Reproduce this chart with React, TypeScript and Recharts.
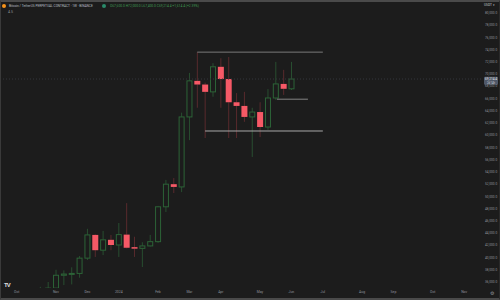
import { ComposedChart, Bar, XAxis, YAxis, ReferenceLine } from "recharts";

// weekly candles, index 0 = week of 2 Oct 2023
const weeks = [
  0, 1, 2, 3, 4, 5, 6, 7, 8, 9, 10, 11, 12, 13, 14, 15, 16, 17,
  18, 19, 20, 21, 22, 23, 24, 25, 26, 27, 28, 29, 30, 31, 32, 33, 34, 35,
];
const opens = [
  27000, 27900, 26850, 29950, 34500, 35000, 37100, 37300, 37400, 39900, 43700, 41200, 42900, 42050, 43750, 41700, 41500, 41900,
  42600, 48300, 52000, 51550, 63000, 68900, 68300, 67100, 71200, 69200, 65400, 64800, 63000, 63800, 61350, 66100, 68400, 67600,
];
const highs = [
  28600, 28000, 30300, 35200, 36000, 38000, 37900, 38400, 40250, 44700, 43800, 44350, 43700, 45650, 48900, 43400, 42500, 43700,
  48450, 52700, 53000, 63700, 70200, 73600, 68600, 71800, 72600, 72800, 66900, 67100, 64500, 65400, 67550, 72000, 70700, 72000,
];
const lows = [
  26900, 26500, 26700, 29600, 34100, 34500, 35500, 35600, 36700, 39600, 40100, 40400, 41200, 40100, 41500, 40100, 38450, 41800,
  42400, 47450, 50550, 50700, 59200, 64500, 59550, 66300, 64500, 59550, 59550, 62200, 56450, 59700, 60900, 65800, 66600, 67400,
];
const closes = [
  27900, 26850, 29950, 34500, 35000, 37100, 37300, 37400, 39900, 43700, 41200, 42900, 42050, 43750, 41600, 41450, 41900, 42600,
  48300, 52000, 51550, 63000, 68900, 68300, 67100, 71200, 69200, 65400, 64800, 63000, 63800, 61350, 66100, 68400, 67600, 69200,
];

const monthTicks = [0, 5, 9, 13, 18, 22, 26, 31, 35, 39, 44, 48, 53, 57];
const monthLabels = ["Oct", "Nov", "Dec", "2024", "Feb", "Mar", "Apr", "May", "Jun", "Jul", "Aug", "Sep", "Oct", "Nov"];
const priceTicks = [
  36000, 38000, 40000, 42000, 44000, 46000, 48000, 50000, 52000, 54000, 56000, 58000,
  60000, 62000, 64000, 66000, 68000, 70000, 72000, 74000, 76000, 78000, 80000,
];

const rangeTop = 73600;
const rangeBottom = 60700;
const midLevel = 65900;
const lastPrice = 69200;

const data = weeks.map((w, i) => ({
  w,
  o: opens[i],
  h: highs[i],
  l: lows[i],
  c: closes[i],
  range: [lows[i], highs[i]],
}));

const BG = "#1c1c1c";
const UP = "#2c6337";
const UP_WICK = "#284e30";
const DOWN = "#f65966";
const DOWN_WICK = "#582a2d";
const TEXT = "#8f939b";

function Candle(props: any) {
  const { x, y, width, height, payload } = props;
  if (!payload || height == null) return null;
  const { o, h, l, c } = payload;
  const up = c >= o;
  const k = h === l ? 0 : height / (h - l);
  const bodyTop = y + (h - Math.max(o, c)) * k;
  const bodyBot = y + (h - Math.min(o, c)) * k;
  const cx = x + width / 2;
  const wick = up ? UP_WICK : DOWN_WICK;
  const bh = Math.max(1, bodyBot - bodyTop);
  return (
    <g>
      <line x1={cx} x2={cx} y1={y} y2={bodyTop} stroke={wick} strokeWidth={1} />
      <line x1={cx} x2={cx} y1={bodyTop + bh} y2={y + height} stroke={wick} strokeWidth={1} />
      {up ? (
        <rect x={x + 0.5} y={bodyTop} width={width - 1} height={bh} fill={BG} stroke={UP} strokeWidth={1} />
      ) : (
        <rect x={x} y={bodyTop} width={width} height={bh} fill={DOWN} />
      )}
    </g>
  );
}

function PriceLabel(props: any) {
  const vb = props.viewBox || {};
  const bx = vb.x + vb.width + 3;
  const by = vb.y - 2.4;
  return (
    <g>
      <rect x={bx} y={by} width={14} height={8} fill="#4f5868" rx={1} />
      <text x={bx + 7} y={by + 3.5} fontSize={3.1} fill="#e8e8e8" textAnchor="middle">
        69,214.4
      </text>
      <text x={bx + 7} y={by + 7.2} fontSize={2.7} fill="#cfd2d8" textAnchor="middle">
        2d 14h
      </text>
    </g>
  );
}

const fmtPrice = (v: number) =>
  v.toLocaleString("en-US", { minimumFractionDigits: 1, maximumFractionDigits: 1 });

export default function App() {
  return (
    <div
      style={{
        position: "fixed",
        left: 0,
        top: 0,
        width: 500,
        height: 300,
        background: BG,
        fontFamily: "Roboto, sans-serif",
        overflow: "hidden",
      }}
    >
      <ComposedChart
        width={500}
        height={300}
        data={data}
        margin={{ top: 3, right: 0, left: 2, bottom: 0 }}
      >
        <XAxis
          dataKey="w"
          type="number"
          domain={[-1.873, 59.15]}
          allowDataOverflow
          ticks={monthTicks}
          tickFormatter={(v: number) => monthLabels[monthTicks.indexOf(v)] ?? ""}
          interval={0}
          height={12}
          tickSize={0}
          tickMargin={3}
          axisLine={false}
          tickLine={false}
          tick={{ fontSize: 3.4, fill: TEXT }}
        />
        <YAxis
          orientation="right"
          type="number"
          domain={[35017, 81636]}
          allowDataOverflow
          ticks={priceTicks}
          interval={0}
          width={19}
          tickSize={0}
          tickMargin={4}
          axisLine={false}
          tickLine={false}
          tickFormatter={fmtPrice}
          tick={{ fontSize: 3.2, fill: TEXT, textAnchor: "start" }}
        />
        <ReferenceLine
          y={lastPrice}
          stroke="#34373c"
          strokeDasharray="1 2"
          label={<PriceLabel />}
        />
        <ReferenceLine
          segment={[
            { x: 23, y: rangeTop },
            { x: 39, y: rangeTop },
          ]}
          stroke="#7a7a7a"
          strokeWidth={1}
        />
        <ReferenceLine
          segment={[
            { x: 24, y: rangeBottom },
            { x: 39, y: rangeBottom },
          ]}
          stroke="#a8a8a8"
          strokeWidth={1}
        />
        <ReferenceLine
          segment={[
            { x: 33.15, y: midLevel },
            { x: 37.1, y: midLevel },
          ]}
          stroke="#858585"
          strokeWidth={1}
        />
        <Bar dataKey="range" barSize={6} shape={<Candle />} isAnimationActive={false} />
      </ComposedChart>

      {/* header */}
      <div style={{ position: "absolute", left: 2, top: 4, width: 4, height: 4, borderRadius: 2, background: "#f7931a" }} />
      <div style={{ position: "absolute", left: 9, top: 4, fontSize: 3.2, color: "#b8bcc4", whiteSpace: "nowrap" }}>
        Bitcoin / TetherUS PERPETUAL CONTRACT · 1W · BINANCE
      </div>
      <div style={{ position: "absolute", left: 102, top: 4, width: 4, height: 4, borderRadius: 2, background: "#2a8a6a" }} />
      <div style={{ position: "absolute", left: 110, top: 4, fontSize: 3.3, color: "#3f9a52", whiteSpace: "nowrap" }}>
        O67,600.0 H72,000.0 L67,400.0 C69,214.4 +1,614.4 (+2.39%)
      </div>
      <div style={{ position: "absolute", left: 8, top: 10, fontSize: 3.5, color: "#8f939b" }}>4.5</div>
      <div style={{ position: "absolute", left: 484, top: 3, fontSize: 3.2, color: "#c4c7cd", whiteSpace: "nowrap" }}>
        USDT ▾
      </div>
      {/* footer */}
      <div style={{ position: "absolute", left: 4, top: 281, fontSize: 6, fontWeight: 700, color: "#d8d8d8", letterSpacing: -1 }}>
        TV
      </div>
      <div style={{ position: "absolute", left: 490, top: 290, fontSize: 5, color: "#8f939b" }}>⚙</div>
      {/* frame */}
      <div
        style={{
          position: "absolute",
          inset: 0,
          pointerEvents: "none",
          borderTop: "2px solid #4a4a4a",
          borderBottom: "2px solid #4a4a4a",
          borderLeft: "1px solid #3a3a3a",
          borderRight: "1px solid #2a2a2a",
        }}
      />
    </div>
  );
}
